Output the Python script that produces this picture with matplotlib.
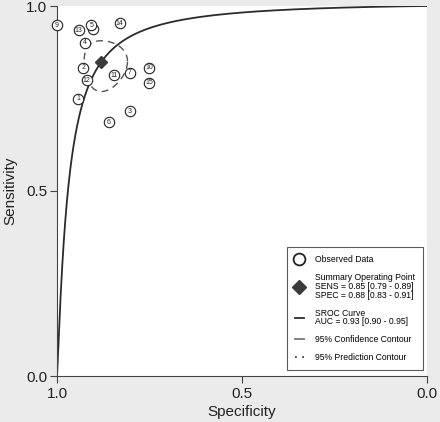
import numpy as np
import matplotlib.pyplot as plt
from matplotlib.lines import Line2D

plt.rcParams['font.family'] = ['Liberation Sans', 'DejaVu Sans']

# observed studies (specificity, sensitivity), labels 1..15
study_ids = [9, 13, 8, 5, 14, 4, 2, 12, 11, 7, 10, 15, 1, 3, 6]
spec = [1.00, 0.941, 0.902, 0.907, 0.831, 0.925, 0.929, 0.920, 0.846, 0.803, 0.751, 0.751, 0.943, 0.803, 0.860]
sens = [0.948, 0.935, 0.938, 0.948, 0.953, 0.900, 0.833, 0.799, 0.813, 0.820, 0.833, 0.792, 0.750, 0.715, 0.686]

# summary operating point
sum_sens = 0.85
sum_spec = 0.88

# SROC curve: logit(sens) = a + b * logit(1 - spec)
sroc_a = 4.02
sroc_b = 1.15

# confidence contour half-widths in logit space
se_logit_sens = 0.533
se_logit_fpr = 0.546

legend_labels = [
    "Observed Data",
    "Summary Operating Point\nSENS = 0.85 [0.79 - 0.89]\nSPEC = 0.88 [0.83 - 0.91]",
    "SROC Curve\nAUC = 0.93 [0.90 - 0.95]",
    "95% Confidence Contour",
    "95% Prediction Contour",
]


def logit(p):
    return np.log(p / (1 - p))


def expit(z):
    return 1 / (1 + np.exp(-z))


fig = plt.figure(figsize=(4.4, 4.22), dpi=100, facecolor='#ebebeb')
ax = fig.add_axes([57 / 440, 46 / 422, 370 / 440, 370 / 422])
ax.set_facecolor('white')

# SROC curve
fpr = np.linspace(1e-5, 1 - 1e-5, 2000)
curve_sens = expit(sroc_a + sroc_b * logit(fpr))
ax.plot(np.r_[1.0, 1 - fpr], np.r_[0.0, curve_sens], color='#2b2b2b', lw=1.3, zorder=2)

# confidence contour
t = np.linspace(0, 2 * np.pi, 300)
c_sens = expit(logit(sum_sens) + se_logit_sens * np.sin(t))
c_fpr = expit(logit(1 - sum_spec) + se_logit_fpr * np.cos(t))
ax.plot(1 - c_fpr, c_sens, color='#555555', lw=1.0, dashes=(5, 3.5), zorder=2)

# observed data (later circles cover earlier labels)
for i, (sid, x, y) in enumerate(zip(study_ids, spec, sens)):
    ax.plot(x, y, 'o', ms=7.5, mfc='white', mec='#222222', mew=0.8, zorder=3 + 2 * i, clip_on=False)
    ax.text(x, y, str(sid), fontsize=5, ha='center', va='center', color='#222222', zorder=4 + 2 * i)

# summary point
ax.plot(sum_spec, sum_sens, 'D', ms=6.5, color='#3a3a3a', zorder=50)

ax.set_xlim(1, 0)
ax.set_ylim(0, 1)
ax.set_xticks([1.0, 0.5, 0.0])
ax.set_yticks([0.0, 0.5, 1.0])
ax.set_xticklabels(['1.0', '0.5', '0.0'])
ax.set_yticklabels(['0.0', '0.5', '1.0'])
ax.tick_params(length=5, width=0.8, color='#444444', labelsize=11, labelcolor='#222222', pad=2)
ax.tick_params(axis='x', pad=3)
for side in ['top', 'right']:
    ax.spines[side].set_visible(False)
for side in ['left', 'bottom']:
    ax.spines[side].set_color('#444444')
    ax.spines[side].set_linewidth(0.8)
ax.set_xlabel('Specificity', fontsize=11, color='#222222', labelpad=3)
ax.set_ylabel('Sensitivity', fontsize=11, color='#222222', labelpad=6)

handles = [
    Line2D([], [], ls='none', marker='o', ms=8.5, mfc='white', mec='#222222', mew=1.3),
    Line2D([], [], ls='none', marker='D', ms=7, color='#3a3a3a'),
    Line2D([], [], color='#2b2b2b', lw=1.3),
    Line2D([], [], color='#777777', lw=1.3),
    Line2D([], [], color='#444444', lw=1.3, ls=(0, (1, 3))),
]
leg = ax.legend(handles, legend_labels, loc='lower right', bbox_to_anchor=(0.988, 0.016),
                fontsize=6.2, frameon=True, fancybox=False, edgecolor='#333333',
                handlelength=1.0, handletextpad=1.3, labelspacing=1.05, borderpad=0.9,
                borderaxespad=0)
leg.get_frame().set_linewidth(0.8)
for txt in leg.get_texts():
    txt.set_linespacing(0.95)

fig.savefig('out.png', dpi=100, facecolor=fig.get_facecolor())
